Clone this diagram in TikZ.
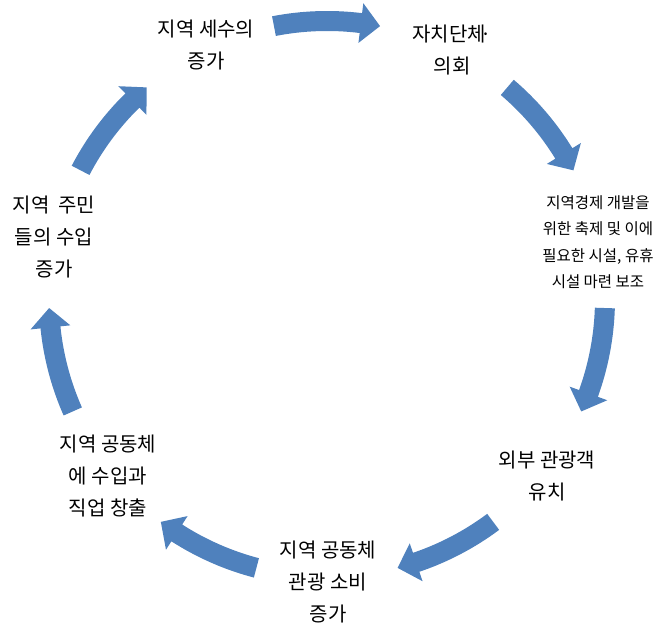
\documentclass[tikz,border=0pt]{standalone}
\usepackage{fontspec}
\usepackage{tikz}

\newfontfamily\kr{Noto Sans CJK KR}
\definecolor{arrowblue}{RGB}{79,129,189}

%% one block arrow of the cycle, #1 = middle angle
\newcommand{\cyclearrow}[1]{%
  \fill[arrowblue, shift={(c)}] ({#1+11}:288pt)
    arc[start angle={#1+11}, end angle={#1-7}, radius=288pt]
    -- ({#1-7}:298pt) -- ({#1-11}:278pt) -- ({#1-7}:258pt) -- ({#1-7}:268pt)
    arc[start angle={#1-7}, end angle={#1+11}, radius=268pt] -- cycle;}

\tikzset{
  step text/.style={align=center, font=\kr\fontsize{20}{32}\selectfont},
  small text/.style={align=center, font=\kr\fontsize{15.5}{26.5}\selectfont}
}

\begin{document}
\begin{tikzpicture}[x=1pt, y=1pt]

\useasboundingbox (0,0) rectangle (669,-626);

%% centre of the cycle
\coordinate (c) at (327,-299);

%% steps
\node[step text]  (tax)      at (206,-45)  {지역 세수의\\증가};                          %% a
\node[step text]  (council)  at (452,-50)  {자치단체\kern-0.3em·\\의회};                 %% b
\node[small text] (support)  at (598,-242) {지역경제 개발을\\위한 축제 및 이에\\필요한 시설, 유휴\\시설 마련 보조}; %% c
\node[step text]  (tourists) at (547,-476) {외부 관광객\\유치};                          %% d
\node[step text]  (spending) at (328,-582) {지역 공동체\\관광 소비\\증가};               %% e
\node[step text]  (jobs)     at (108,-476) {지역 공동체\\에 수입과\\직업 창출};          %% f
\node[step text]  (income)   at (54,-237)  {지역~~주민\\들의 수입\\증가};                %% g

%% arrows
\cyclearrow{90}       %% ab
\cyclearrow{38.57}    %% bc
\cyclearrow{-12.86}   %% cd
\cyclearrow{-64.29}   %% de
\cyclearrow{-115.71}  %% ef
\cyclearrow{-167.14}  %% fg
\cyclearrow{141.43}   %% ga

\end{tikzpicture}
\end{document}
